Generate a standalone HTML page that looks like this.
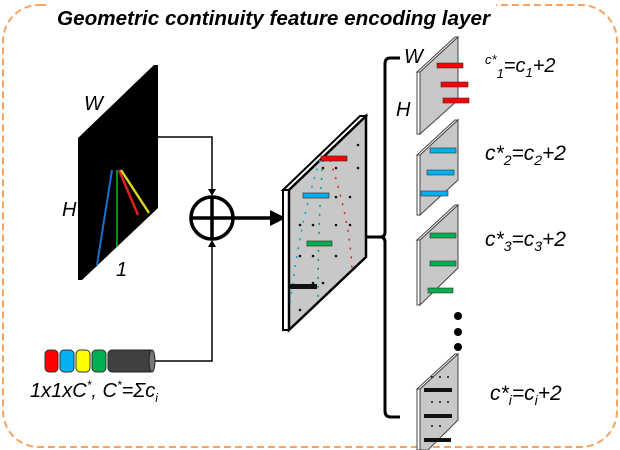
<!DOCTYPE html>
<html><head><meta charset="utf-8"><style>
html,body{margin:0;padding:0;background:#fff;}
svg{display:block;}
text{font-family:"Liberation Sans",sans-serif;font-style:italic;}
</style></head><body>
<svg width="620" height="450" viewBox="0 0 620 450" xmlns="http://www.w3.org/2000/svg">
<rect x="3" y="5" width="614" height="442" rx="36" fill="none" stroke="#f4a460" stroke-width="2" stroke-dasharray="7,4"/>
<rect x="50" y="3" width="446" height="27" fill="#fff"/>
<text x="57" y="25" font-size="20" font-weight="bold" textLength="433" lengthAdjust="spacingAndGlyphs">Geometric continuity feature encoding layer</text>

<polygon points="78,138 154,65 158,65 158,208 82,280 78,280" fill="#000"/>
<path d="M112,170 Q105,215 97,265" stroke="#1e6fd0" stroke-width="2" fill="none"/>
<line x1="117" y1="170" x2="117" y2="247" stroke="#10c020" stroke-width="1.5"/>
<line x1="119" y1="170" x2="138" y2="215" stroke="#e02020" stroke-width="2.5"/>
<line x1="121" y1="170" x2="149" y2="213" stroke="#d8d020" stroke-width="2.5"/>
<text x="84" y="110" font-size="20">W</text>
<text x="62" y="216" font-size="20">H</text>
<text x="116" y="276" font-size="20">1</text>

<polyline points="158,137 212,137 212,192" fill="none" stroke="#000" stroke-width="1.5"/>
<polygon points="208,189 216,189 212,196" fill="#000"/>
<polyline points="155,361 212,361 212,244" fill="none" stroke="#000" stroke-width="1.5"/>
<polygon points="208,247 216,247 212,240" fill="#000"/>
<circle cx="212" cy="218" r="21" fill="#fff" stroke="#000" stroke-width="3.5"/>
<line x1="191" y1="218" x2="233" y2="218" stroke="#000" stroke-width="3.5"/>
<line x1="212" y1="197" x2="212" y2="239" stroke="#000" stroke-width="3.5"/>
<line x1="233" y1="218" x2="272" y2="218" stroke="#000" stroke-width="3.5"/>
<polygon points="270,210 286,218 270,226" fill="#000"/>

<rect x="45" y="350" width="13" height="22" rx="4" fill="#f00" stroke="#333" stroke-width="1"/>
<rect x="60" y="350" width="14" height="22" rx="4" fill="#00b0f0" stroke="#333" stroke-width="1"/>
<rect x="76" y="350" width="14" height="22" rx="4" fill="#ff0" stroke="#333" stroke-width="1"/>
<rect x="92" y="350" width="14" height="22" rx="4" fill="#00b050" stroke="#333" stroke-width="1"/>
<rect x="108" y="350" width="46" height="22" rx="4" fill="#404040" stroke="#222" stroke-width="1"/>
<ellipse cx="152" cy="361" rx="3" ry="11" fill="#777" stroke="#222"/>
<text x="30" y="397" font-size="20">1x1xC<tspan font-size="12" dy="-8">*</tspan><tspan dy="8">, C</tspan><tspan font-size="12" dy="-8">*</tspan><tspan dy="8">=Σc</tspan><tspan font-size="12" dy="5">i</tspan></text>

<polygon points="283,190 360,116 366,116 289,190" fill="#fff" stroke="#000" stroke-width="2"/>
<polygon points="283,190 289,190 289,330 283,330" fill="#fff" stroke="#000" stroke-width="2"/>
<polygon points="289,190 366,116 366,257 289,330" fill="#c8c8c8" stroke="#000" stroke-width="2.5"/>
<g fill="#111">
<circle cx="310" cy="197" r="1.3"/><circle cx="323" cy="197" r="1.3"/><circle cx="336" cy="197" r="1.3"/><circle cx="350" cy="197" r="1.3"/><circle cx="358" cy="168" r="1.3"/><circle cx="358" cy="145" r="1.3"/><circle cx="336" cy="168" r="1.3"/><circle cx="323" cy="168" r="1.3"/>
<circle cx="300" cy="225" r="1.3"/><circle cx="313" cy="225" r="1.3"/><circle cx="336" cy="225" r="1.3"/><circle cx="350" cy="225" r="1.3"/>
<circle cx="300" cy="256" r="1.3"/><circle cx="313" cy="256" r="1.3"/><circle cx="336" cy="256" r="1.3"/>
<circle cx="313" cy="283" r="1.3"/><circle cx="323" cy="283" r="1.3"/>
<circle cx="300" cy="310" r="1.3"/>
</g>
<path d="M320,160 Q300,220 290,305" stroke="#00a0e0" stroke-width="1.5" stroke-dasharray="2,7" fill="none"/>
<path d="M323,160 Q318,220 318,300" stroke="#00a050" stroke-width="1.5" stroke-dasharray="2,7" fill="none"/>
<path d="M330,160 Q350,220 352,270" stroke="#e02020" stroke-width="1.5" stroke-dasharray="2,7" fill="none"/>
<rect x="321" y="156" width="26" height="5" fill="#f00" stroke="#333" stroke-width=".7"/>
<rect x="303" y="193" width="26" height="5" fill="#00b0f0" stroke="#333" stroke-width=".7"/>
<rect x="307" y="241" width="25" height="5" fill="#00b050" stroke="#333" stroke-width=".7"/>
<rect x="290" y="284" width="27" height="5" fill="#111"/>

<path d="M400,58 L390,58 Q385,58 385,64 L385,232 Q385,237 380,237 L366,237 M380,237 Q385,237 385,242 L385,411 Q385,417 391,417 L400,417" stroke="#000" stroke-width="3" fill="none"/>

<g stroke="#444" stroke-width="1">
<polygon points="417,72 455,37 458,37 420,72" fill="#fff"/>
<polygon points="417,72 420,72 420,134 417,134" fill="#fff"/>
<polygon points="420,72 458,37 458,100 420,134" fill="#c8c8c8"/>
<polygon points="417,155 455,120 458,120 420,155" fill="#fff"/>
<polygon points="417,155 420,155 420,215 417,215" fill="#fff"/>
<polygon points="420,155 458,120 458,180 420,215" fill="#c8c8c8"/>
<polygon points="417,240 455,205 458,205 420,240" fill="#fff"/>
<polygon points="417,240 420,240 420,305 417,305" fill="#fff"/>
<polygon points="420,240 458,205 458,268 420,305" fill="#c8c8c8"/>
<polygon points="417,389 455,354 458,354 420,389" fill="#fff"/>
<polygon points="417,389 420,389 420,450 417,450" fill="#fff"/>
<polygon points="420,389 458,354 458,420 428,450 420,450" fill="#c8c8c8"/>
</g>
<rect x="437" y="63" width="26" height="5" fill="#f00" stroke="#333" stroke-width=".6"/>
<rect x="441" y="82" width="27" height="5" fill="#f00" stroke="#333" stroke-width=".6"/>
<rect x="443" y="98" width="26" height="5" fill="#f00" stroke="#333" stroke-width=".6"/>
<rect x="430" y="148" width="26" height="5" fill="#00b0f0" stroke="#333" stroke-width=".6"/>
<rect x="427" y="170" width="27" height="5" fill="#00b0f0" stroke="#333" stroke-width=".6"/>
<rect x="421" y="191" width="27" height="5" fill="#00b0f0" stroke="#333" stroke-width=".6"/>
<rect x="430" y="233" width="26" height="5" fill="#00b050" stroke="#333" stroke-width=".6"/>
<rect x="430" y="261" width="26" height="5" fill="#00b050" stroke="#333" stroke-width=".6"/>
<rect x="428" y="288" width="25" height="5" fill="#00b050" stroke="#333" stroke-width=".6"/>
<rect x="424" y="388" width="28" height="4" fill="#111"/>
<rect x="424" y="414" width="28" height="4" fill="#111"/>
<rect x="424" y="438" width="27" height="4" fill="#111"/>
<g fill="#111"><circle cx="432" cy="377" r="1"/><circle cx="440" cy="377" r="1"/><circle cx="448" cy="377" r="1"/><circle cx="432" cy="402" r="1"/><circle cx="440" cy="402" r="1"/><circle cx="448" cy="402" r="1"/><circle cx="432" cy="426" r="1"/><circle cx="440" cy="426" r="1"/></g>
<text x="404" y="63" font-size="20">W</text>
<text x="396" y="116" font-size="20">H</text>
<circle cx="458" cy="316" r="4" fill="#000"/>
<circle cx="458" cy="332" r="4" fill="#000"/>
<circle cx="458" cy="347" r="4" fill="#000"/>

<text x="485" y="72" font-size="20"><tspan font-size="13" dy="-8">c</tspan><tspan font-size="13">*</tspan><tspan font-size="13" dy="14">1</tspan><tspan dy="-6">=c</tspan><tspan font-size="13" dy="5">1</tspan><tspan dy="-5">+2</tspan></text>
<text x="485" y="160" font-size="21">c*<tspan font-size="14" dy="5">2</tspan><tspan dy="-5">=c</tspan><tspan font-size="14" dy="5">2</tspan><tspan dy="-5">+2</tspan></text>
<text x="485" y="246" font-size="21">c*<tspan font-size="14" dy="5">3</tspan><tspan dy="-5">=c</tspan><tspan font-size="14" dy="5">3</tspan><tspan dy="-5">+2</tspan></text>
<text x="490" y="400" font-size="21">c*<tspan font-size="14" dy="5">i</tspan><tspan dy="-5">=c</tspan><tspan font-size="14" dy="5">i</tspan><tspan dy="-5">+2</tspan></text>
</svg>
</body></html>
